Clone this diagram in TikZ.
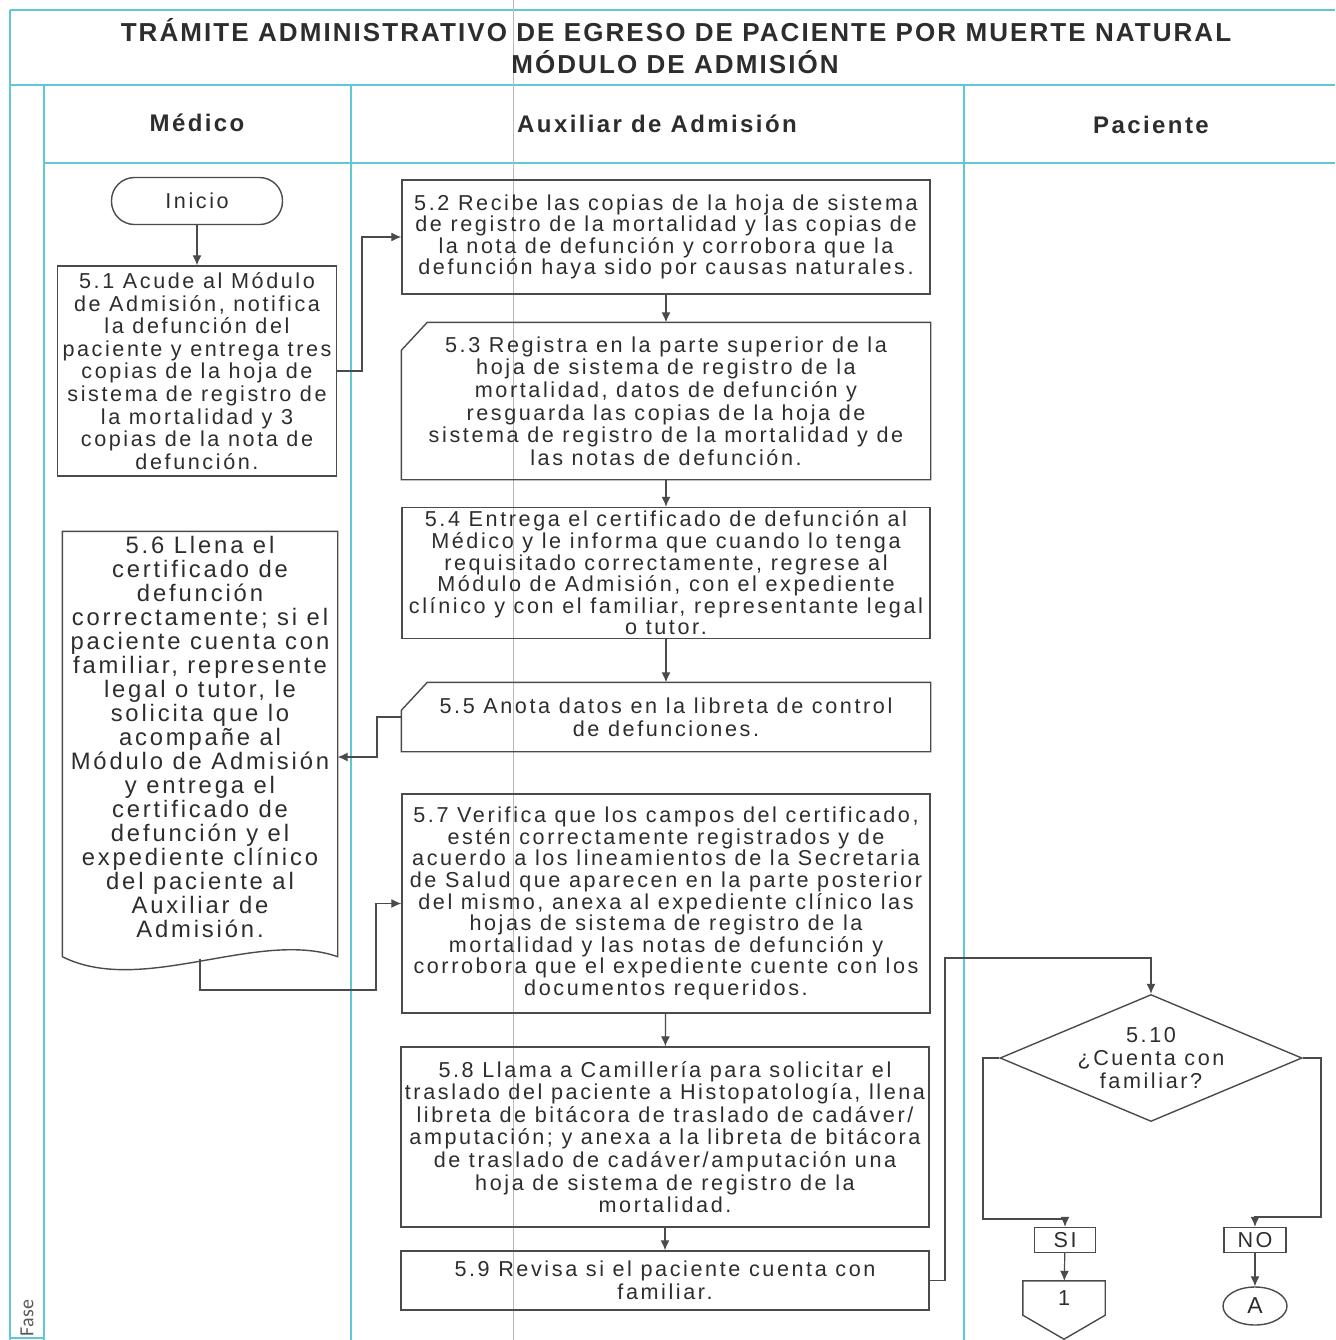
\documentclass[tikz,border=0pt]{standalone}
\usepackage{fontspec}
\setmainfont{Liberation Sans}
\newfontfamily\pasofont[LetterSpace=12]{Liberation Sans}
\newfontfamily\carrilfont[LetterSpace=10]{Liberation Sans}
\newfontfamily\titulofont[LetterSpace=8]{Liberation Sans}
\newfontfamily\fasefont{Carlito}
\usetikzlibrary{arrows.meta,shapes.geometric}

\definecolor{carril}{RGB}{95,200,215}
\definecolor{trazo}{RGB}{75,75,75}
\definecolor{letra}{RGB}{45,45,45}

\begin{document}
\begin{tikzpicture}[x=0.5pt,y=-0.5pt,>={Latex[length=5pt,width=4.5pt]},
	paso/.style={draw=trazo,line width=0.7pt,align=center,text=letra,
		font=\pasofont\fontsize{10.8}{11.3}\selectfont,inner sep=0pt},
	apretado/.style={font=\pasofont\fontsize{10.8}{10.8}\selectfont},
	flecha/.style={->,draw=trazo,line width=0.6pt},
	carriltxt/.style={text=letra,font=\carrilfont\bfseries\fontsize{12}{14}\selectfont}]
\def\tarjeta#1{
	\draw[trazo,line width=0.7pt] ([xshift=13pt]#1.north west) -- (#1.north east)
		-- (#1.south east) -- (#1.south west) -- ([yshift=-14pt]#1.north west) -- cycle;
}

\useasboundingbox (0,0) rectangle (1335,1340);

\begin{scope}
\color{carril}
\draw[line width=0.7pt] (10,10) -- (1335,10);
\draw[line width=0.7pt] (10,85) -- (1335,85);
\draw[line width=0.7pt] (44,163) -- (1335,163);
\draw[line width=0.7pt] (10,10) -- (10,1340);
\foreach \x in {44,351,964}{
	\draw[line width=0.7pt] (\x,85) -- (\x,1340);
}
\draw[line width=0.7pt] (10,1338) -- (44,1338);
\end{scope}

\draw[gray!55,line width=0.4pt] (513,0) -- (513,1340);

\node[text=letra,font=\titulofont\bfseries\fontsize{13}{15}\selectfont] (titulo) at (676,30)
	{TRÁMITE ADMINISTRATIVO DE EGRESO DE PACIENTE POR MUERTE NATURAL};
\node[text=letra,font=\titulofont\bfseries\fontsize{13}{15}\selectfont] (modulo) at (675,62)
	{MÓDULO DE ADMISIÓN};

\node[carriltxt] (medico) at (197,123) {Médico};
\node[carriltxt] (auxiliar) at (657,124) {Auxiliar de Admisión};
\node[carriltxt] (paciente) at (1151,125) {Paciente};
\node[rotate=90,text=gray!70!black,font=\fasefont\fontsize{10}{12}\selectfont] (fase) at (27,1318) {Fase};

\node[paso,rounded corners=11.5pt,minimum width=85.5pt,minimum height=23.5pt,
	font=\pasofont\fontsize{10.8}{12}\selectfont] (inicio) at (197,201) {Inicio};

\node[paso,minimum width=139.5pt,minimum height=105pt] (p51) at (197,371)
	{5.1 Acude al Módulo\\de Admisión, notifica\\la defunción del\\paciente y entrega tres\\
	copias de la hoja de\\sistema de registro de\\la mortalidad y 3\\copias de la nota de\\defunción.};

\node[paso,apretado,minimum width=264pt,minimum height=57pt] (p52) at (666,237)
	{5.2 Recibe las copias de la hoja de sistema\\de registro de la mortalidad y las copias de\\
	la nota de defunción y corrobora que la\\defunción haya sido por causas naturales.};

\node[paso,draw=none,minimum width=264pt,minimum height=78pt] (p53) at (666,401)
	{5.3 Registra en la parte superior de la\\hoja de sistema de registro de la\\
	mortalidad, datos de defunción y\\resguarda las copias de la hoja de\\
	sistema de registro de la mortalidad y de\\las notas de defunción.};
\tarjeta{p53}

\node[paso,apretado,minimum width=264pt,minimum height=65.5pt] (p54) at (666,573)
	{5.4 Entrega el certificado de defunción al\\Médico y le informa que cuando lo tenga\\
	requisitado correctamente, regrese al\\Módulo de Admisión, con el expediente\\
	clínico y con el familiar, representante legal\\o tutor.};

\node[paso,draw=none,minimum width=264pt,minimum height=34pt] (p55) at (666,717)
	{5.5 Anota datos en la libreta de control\\de defunciones.};
\tarjeta{p55}

\node[paso,draw=none,minimum width=137pt,minimum height=205pt,
	font=\pasofont\fontsize{11.9}{12}\selectfont] (p56) at (200,737)
	{5.6 Llena el\\certificado de\\defunción\\correctamente; si el\\paciente cuenta con\\
	familiar, represente\\legal o tutor, le\\solicita que lo\\acompañe al\\Módulo de Admisión\\
	y entrega el\\certificado de\\defunción y el\\expediente clínico\\del paciente al\\
	Auxiliar de\\Admisión.};
\draw[trazo,line width=0.7pt] ([yshift=-7pt]p56.south west) -- (p56.north west) -- (p56.north east)
	-- ([yshift=-7pt]p56.south east)
	.. controls +(-40pt,14pt) and +(40pt,-20pt) .. ([yshift=-7pt]p56.south west);

\node[paso,apretado,minimum width=264pt,minimum height=109.5pt] (p57) at (666,903.5)
	{5.7 Verifica que los campos del certificado,\\estén correctamente registrados y de\\
	acuerdo a los lineamientos de la Secretaria\\de Salud que aparecen en la parte posterior\\
	del mismo, anexa al expediente clínico las\\hojas de sistema de registro de la\\
	mortalidad y las notas de defunción y\\corrobora que el expediente cuente con los\\
	documentos requeridos.};

\node[paso,minimum width=264pt,minimum height=90pt] (p58) at (665,1137)
	{5.8 Llama a Camillería para solicitar el\\traslado del paciente a Histopatología, llena\\
	libreta de bitácora de traslado de cadáver/\\amputación; y anexa a la libreta de bitácora\\
	de traslado de cadáver/amputación una\\hoja de sistema de registro de la\\mortalidad.};

\node[paso,minimum width=264pt,minimum height=29.5pt] (p59) at (665,1280.5)
	{5.9 Revisa si el paciente cuenta con\\familiar.};

\node[paso,diamond,aspect=2.4,minimum width=151pt,minimum height=63.5pt] (p510) at (1151,1058)
	{5.10\\¿Cuenta con\\familiar?};

\node[paso,minimum width=30.5pt,minimum height=12.5pt] (si) at (1065,1240) {SI};
\node[paso,minimum width=31pt,minimum height=12.5pt] (no) at (1255,1240) {NO};

\node[paso,draw=none,minimum width=40.5pt,minimum height=16.5pt] (uno) at (1064,1298) {1};
\draw[trazo,line width=0.7pt] (uno.north west) -- (uno.north east) -- (uno.south east)
	-- ([yshift=-12pt]uno.south) -- (uno.south west) -- cycle;
\node[paso,ellipse,minimum width=32pt,minimum height=19pt,
	font=\pasofont\fontsize{11.5}{12}\selectfont] (letraA) at (1255,1306) {A};

\coordinate (b51) at (362,371);
\coordinate (b55) at (377,757);
\coordinate (b56) at (376,990);
\coordinate (b59) at (945,958);
\coordinate (bsi) at (983,1219);
\coordinate (bno) at (1321,1217);

\draw[flecha] (inicio) -- (p51);
\draw[flecha] (p51.east) -- (b51) |- (p52.west);
\draw[flecha] (p52) -- (p53);
\draw[flecha] (p53) -- (p54);
\draw[flecha] (p54) -- (p55);
\draw[flecha] (p55.west) -| (b55) -- (b55 -| p56.east);
\draw[flecha] ([yshift=-8pt]p56.south) |- (b56) |- (p57.west);
\draw[flecha] (p57) -- (p58);
\draw[flecha] (p58) -- (p59);
\draw[flecha] (p59.east) -| (b59) -| (p510.north);
\draw[flecha] (p510.west) -| (bsi) -| (si.north);
\draw[flecha] (p510.east) -| (bno) -| (no.north);
\draw[flecha] (si) -- (uno);
\draw[flecha] (no) -- (letraA);

\end{tikzpicture}
\end{document}
